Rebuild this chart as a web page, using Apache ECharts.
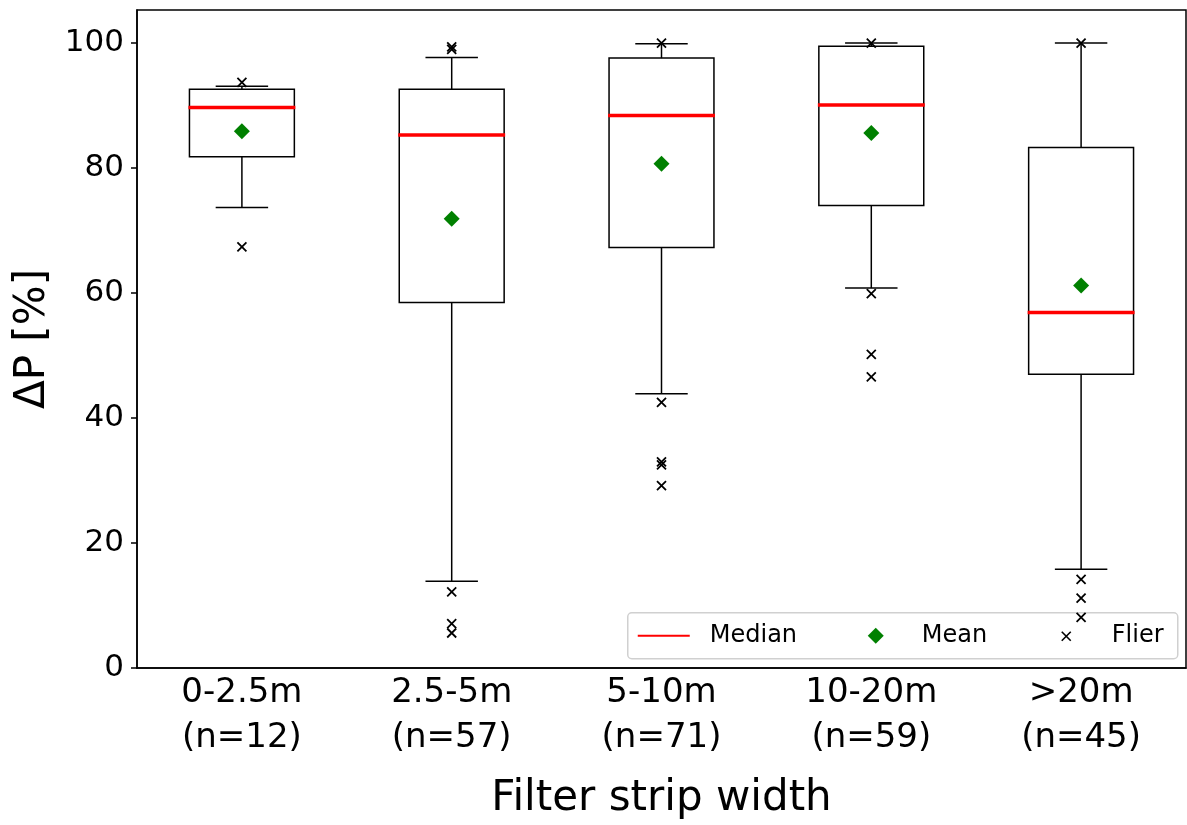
<!DOCTYPE html>
<html>
<head>
<meta charset="utf-8">
<script src="https://cdn.jsdelivr.net/npm/echarts@6/dist/echarts.min.js"></script>
<style>
  html, body { margin: 0; padding: 0; background: #fff; }
  #chart { width: 1187px; height: 825px; }
</style>
</head>
<body>
<div id="chart"></div>
<script>
// values
const categories = ['0-2.5m\n(n=12)', '2.5-5m\n(n=57)', '5-10m\n(n=71)', '10-20m\n(n=59)', '>20m\n(n=45)']
const whiskerLow = [73.7, 13.9, 43.9, 60.8, 15.8]
const q1 = [81.8, 58.5, 67.3, 74.0, 47.0]
const median = [89.7, 85.3, 88.4, 90.1, 56.9]
const q3 = [92.6, 92.6, 97.6, 99.5, 83.3]
const whiskerHigh = [93.1, 97.7, 99.9, 100, 100]
const means = [85.9, 71.9, 80.7, 85.6, 61.2]
const fliers = [
  [93.7, 67.4],
  [99.0, 99.4, 12.2, 7.1, 5.6],
  [100, 42.5, 33.0, 32.5, 29.2],
  [100, 59.9, 50.2, 46.6],
  [100, 14.2, 11.2, 8.1]
]
const yTicks = [0, 20, 40, 60, 80, 100]

const font = 'DejaVu Sans'
const boxData = categories.map((c, i) => [i, whiskerLow[i], q1[i], median[i], q3[i], whiskerHigh[i]])
const meanData = means.map((v, i) => [i, v])
const flierData = []
fliers.forEach((arr, i) => arr.forEach(v => flierData.push([i, v])))

const crossPath = 'path://M0,0L10,10M10,0L0,10'

function renderBox(params, api) {
  const idx = api.value(0)
  const band = api.size([1, 0])[0]
  const half = band * 0.25
  const cap = band * 0.125
  const pLow = api.coord([idx, api.value(1)])
  const pQ1 = api.coord([idx, api.value(2)])
  const pMed = api.coord([idx, api.value(3)])
  const pQ3 = api.coord([idx, api.value(4)])
  const pHigh = api.coord([idx, api.value(5)])
  const x = pQ1[0]
  const line = { stroke: '#000', lineWidth: 1.5 }
  return {
    type: 'group',
    children: [
      { type: 'rect', shape: { x: x - half, y: pQ3[1], width: half * 2, height: pQ1[1] - pQ3[1] },
        style: { fill: 'none', stroke: '#000', lineWidth: 1.5 } },
      { type: 'line', shape: { x1: x, y1: pQ1[1], x2: x, y2: pLow[1] }, style: line },
      { type: 'line', shape: { x1: x, y1: pQ3[1], x2: x, y2: pHigh[1] }, style: line },
      { type: 'line', shape: { x1: x - cap, y1: pLow[1], x2: x + cap, y2: pLow[1] }, style: line },
      { type: 'line', shape: { x1: x - cap, y1: pHigh[1], x2: x + cap, y2: pHigh[1] }, style: line },
      { type: 'line', shape: { x1: x - half - 1, y1: pMed[1], x2: x + half + 1, y2: pMed[1] },
        style: { stroke: '#ff0000', lineWidth: 3.5 }, z2: 10 }
    ]
  }
}

const chart = echarts.init(document.getElementById('chart'))
const option = {
  animation: false,
  backgroundColor: '#fff',
  grid: {
    left: 137, right: 1, top: 10, bottom: 155,
    show: true, borderColor: '#000', borderWidth: 1.5
  },
  xAxis: {
    type: 'category',
    data: categories,
    name: 'Filter strip width',
    nameLocation: 'middle',
    nameGap: 110,
    nameTextStyle: { fontFamily: font, fontSize: 42, color: '#000' },
    axisLine: { lineStyle: { color: '#000', width: 1.5 } },
    axisTick: { alignWithLabel: true, length: 7, lineStyle: { color: '#000', width: 1.5 } },
    axisLabel: { fontFamily: font, fontSize: 34, color: '#000', margin: 3, lineHeight: 45 },
    splitLine: { show: false }
  },
  yAxis: {
    type: 'value',
    min: 0,
    max: 105.3,
    name: 'ΔP [%]',
    nameLocation: 'middle',
    nameRotate: 90,
    nameGap: 80,
    nameTextStyle: { fontFamily: font, fontSize: 42, color: '#000' },
    axisLine: { show: true, lineStyle: { color: '#000', width: 1.5 } },
    axisTick: { show: true, length: 6, customValues: yTicks, lineStyle: { color: '#000', width: 1.5 } },
    axisLabel: { fontFamily: font, fontSize: 31, color: '#000', margin: 13, customValues: yTicks },
    splitLine: { show: false }
  },
  series: [
    {
      type: 'custom',
      renderItem: renderBox,
      encode: { x: 0, y: [1, 2, 3, 4, 5] },
      data: boxData,
      z: 2
    },
    {
      type: 'scatter',
      data: meanData,
      symbol: 'diamond',
      symbolSize: [16, 16],
      itemStyle: { color: '#008000', opacity: 1 },
      z: 4
    },
    {
      type: 'scatter',
      data: flierData,
      symbol: crossPath,
      symbolSize: 9,
      itemStyle: { color: 'none', borderColor: '#000', borderWidth: 1.8, opacity: 1 },
      z: 3
    }
  ],
  // legend box drawn by hand, like matplotlib's
  graphic: [
    {
      type: 'group',
      left: 627,
      top: 612,
      z: 100,
      children: [
        { type: 'rect', shape: { x: 0, y: 0, width: 550, height: 46, r: 4 },
          style: { fill: 'rgba(255,255,255,0.8)', stroke: '#d0d0d0', lineWidth: 1.5 } },
        { type: 'line', shape: { x1: 10, y1: 23, x2: 62, y2: 23 }, style: { stroke: '#ff0000', lineWidth: 2 } },
        { type: 'text', x: 82, y: 23, style: { text: 'Median', font: '24px "DejaVu Sans"', fill: '#000', verticalAlign: 'middle' } },
        { type: 'polygon', shape: { points: [[248, 15], [256, 23], [248, 31], [240, 23]] }, style: { fill: '#008000' } },
        { type: 'text', x: 294, y: 23, style: { text: 'Mean', font: '24px "DejaVu Sans"', fill: '#000', verticalAlign: 'middle' } },
        { type: 'polyline', shape: { points: [[434, 19], [443, 28]] }, style: { stroke: '#000', lineWidth: 1.6 } },
        { type: 'polyline', shape: { points: [[443, 19], [434, 28]] }, style: { stroke: '#000', lineWidth: 1.6 } },
        { type: 'text', x: 484, y: 23, style: { text: 'Flier', font: '24px "DejaVu Sans"', fill: '#000', verticalAlign: 'middle' } }
      ]
    }
  ]
}
chart.setOption(option)
window.addEventListener('resize', () => {
  chart.resize()
})
</script>
</body>
</html>
